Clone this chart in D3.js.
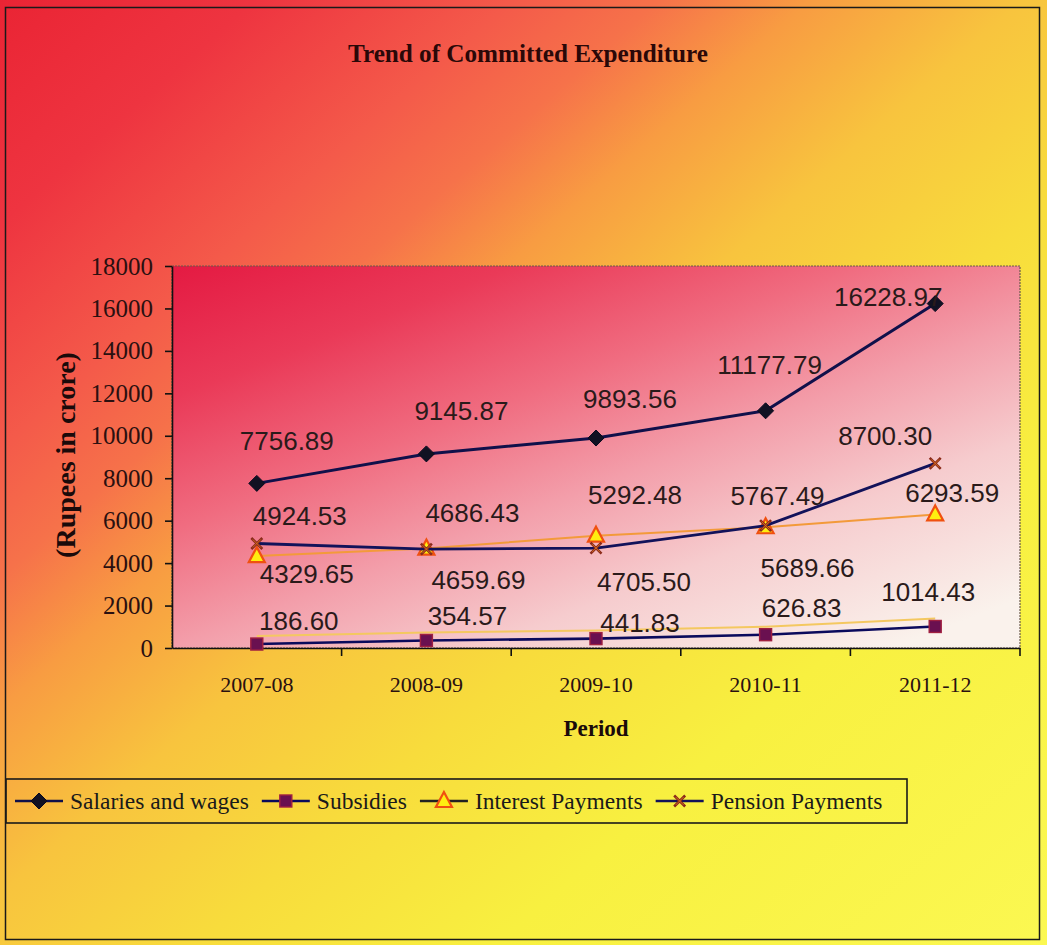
<!DOCTYPE html>
<html>
<head>
<meta charset="utf-8">
<script src="https://cdn.jsdelivr.net/npm/d3@7"></script>
<style>
  html, body { margin: 0; padding: 0; background: #ffffff; }
  svg { display: block; }
</style>
</head>
<body>
<div id="chart"></div>
<script>
// ---- data ----
const periods = ["2007-08", "2008-09", "2009-10", "2010-11", "2011-12"];
const salaries = [7756.89, 9145.87, 9893.56, 11177.79, 16228.97];
const subsidies = [186.60, 354.57, 441.83, 626.83, 1014.43];
const interest = [4329.65, 4686.43, 5292.48, 5689.66, 6293.59];
const pension = [4924.53, 4659.69, 4705.50, 5767.49, 8700.30];
const seriesNames = ["Salaries and wages", "Subsidies", "Interest Payments", "Pension Payments"];
const yTicks = [0, 2000, 4000, 6000, 8000, 10000, 12000, 14000, 16000, 18000];

// ---- layout ----
const W = 1047, H = 945;
const plot = { left: 172, right: 1020, top: 266, bottom: 648 };
const serif = "'Liberation Serif', 'Times New Roman', serif";
const sans = "'Liberation Sans', Arial, sans-serif";

// label nudges (dx, dy of text baseline from the marker), per series
const labelNudge = {
  sal: { dx: [30, 35, 34, 4, -47], dy: [-33, -34, -30, -37, 2] },
  sub: { dx: [42, 41, 44, 36, -7], dy: [-14, -15, -7, -18, -25] },
  int: { dx: [50, 46, 39, 42, 17], dy: [27, -27, -32, 50, -12] },
  pen: { dx: [43, 52, 48, 12, -50], dy: [-18, 40, 43, -21, -18] }
};

const series = [
  { key: "sub", name: seriesNames[1], values: subsidies, line: "#0a0a5c", width: 2.6, marker: "square" },
  { key: "int", name: seriesNames[2], values: interest, line: "#f39a3a", width: 2, marker: "triangle" },
  { key: "pen", name: seriesNames[3], values: pension, line: "#12125a", width: 2.8, marker: "cross" },
  { key: "sal", name: seriesNames[0], values: salaries, line: "#10104a", width: 3, marker: "diamond" }
];

const svg = d3.select("#chart").append("svg")
  .attr("width", W).attr("height", H)
  .attr("viewBox", `0 0 ${W} ${H}`);

const defs = svg.append("defs");

// page background: red at top-left fading through orange to yellow
const bg = defs.append("linearGradient").attr("id", "bgGrad")
  .attr("gradientUnits", "userSpaceOnUse")
  .attr("x1", 0).attr("y1", 0).attr("x2", 924).attr("y2", 1056);
[[0, "#ea2434"], [0.12, "#ee3440"], [0.24, "#f45a4a"], [0.31, "#f6724a"],
 [0.38, "#f89c42"], [0.48, "#f8c43e"], [0.6, "#f8dc3c"], [0.74, "#f8f040"], [1, "#fbf852"]]
  .forEach(([o, c]) => bg.append("stop").attr("offset", o).attr("stop-color", c));

// plot area: saturated pink-red at top-left fading to near white
const pg = defs.append("linearGradient").attr("id", "plotGrad")
  .attr("x1", 0).attr("y1", 0).attr("x2", 0.85).attr("y2", 1);
[[0, "#e41a42"], [0.2, "#ea3a58"], [0.4, "#f06c80"], [0.58, "#f39eaa"],
 [0.76, "#f6ccce"], [1, "#faf2ec"]]
  .forEach(([o, c]) => pg.append("stop").attr("offset", o).attr("stop-color", c));

svg.append("rect").attr("x", 0).attr("y", 0).attr("width", W).attr("height", H)
  .attr("fill", "url(#bgGrad)");

// outer frame
svg.append("rect").attr("x", 5.5).attr("y", 7.5).attr("width", 1034).attr("height", 932)
  .attr("fill", "none").attr("stroke", "#1a1a1a").attr("stroke-width", 1.5);

// title
svg.append("text")
  .attr("x", 528).attr("y", 62)
  .attr("text-anchor", "middle")
  .attr("font-family", serif)
  .attr("font-weight", "bold").attr("font-size", 26)
  .attr("textLength", 360).attr("lengthAdjust", "spacingAndGlyphs")
  .attr("fill", "#2a0808")
  .text("Trend of Committed Expenditure");

// scales
const x = d3.scaleBand().domain(periods).range([plot.left, plot.right]).padding(0);
const cx = p => x(p) + x.bandwidth() / 2;
const y = d3.scaleLinear().domain([0, 18000]).range([plot.bottom, plot.top]);

// plot area
svg.append("rect")
  .attr("x", plot.left).attr("y", plot.top)
  .attr("width", plot.right - plot.left).attr("height", plot.bottom - plot.top)
  .attr("fill", "url(#plotGrad)")
  .attr("stroke", "#6a5a4a").attr("stroke-width", 1.2)
  .attr("stroke-dasharray", "2,1");

// y axis
const yAxis = d3.axisLeft(y).tickValues(yTicks).tickSize(7).tickSizeOuter(0)
  .tickFormat(d3.format("d"));
const gy = svg.append("g").attr("transform", `translate(${plot.left},0)`).call(yAxis);
gy.select(".domain").attr("stroke", "#111").attr("stroke-width", 1.6);
gy.selectAll(".tick line").attr("stroke", "#111").attr("stroke-width", 1.6);
gy.selectAll(".tick text")
  .attr("x", -19)
  .attr("font-family", serif)
  .attr("font-size", 25).attr("fill", "#2a1010");

// x axis
const xAxis = d3.axisBottom(x).tickSize(0).tickSizeOuter(0);
const gx = svg.append("g").attr("transform", `translate(0,${plot.bottom})`).call(xAxis);
gx.select(".domain").attr("stroke", "#111").attr("stroke-width", 1.6);
gx.selectAll(".tick text")
  .attr("y", 44).attr("dy", 0)
  .attr("font-family", serif)
  .attr("font-size", 22).attr("fill", "#2a1010");
// category separators below the axis
gx.selectAll(".sep").data(periods).enter().append("line")
  .attr("x1", d => x(d) + x.bandwidth()).attr("x2", d => x(d) + x.bandwidth())
  .attr("y1", 0).attr("y2", 8)
  .attr("stroke", "#111").attr("stroke-width", 1.6);

// axis titles
svg.append("text")
  .attr("x", cx(periods[2])).attr("y", 736)
  .attr("text-anchor", "middle")
  .attr("font-family", serif)
  .attr("font-weight", "bold").attr("font-size", 23).attr("fill", "#1a0a0a")
  .text("Period");
svg.append("text")
  .attr("transform", "translate(75,455) rotate(-90)")
  .attr("text-anchor", "middle")
  .attr("font-family", serif)
  .attr("font-weight", "bold").attr("font-size", 28).attr("fill", "#1a0a0a")
  .text("(Rupees in crore)");

// markers
function drawMarker(g, type, px, py) {
  if (type === "diamond") {
    g.append("path")
      .attr("d", `M${px},${py - 8}L${px + 8},${py}L${px},${py + 8}L${px - 8},${py}Z`)
      .attr("fill", "#111122").attr("stroke", "#0a0a20").attr("stroke-width", 1);
  } else if (type === "square") {
    g.append("rect").attr("x", px - 6).attr("y", py - 6)
      .attr("width", 12).attr("height", 12)
      .attr("fill", "#6a1050").attr("stroke", "#a02040").attr("stroke-width", 1.4);
  } else if (type === "triangle") {
    g.append("path")
      .attr("d", `M${px},${py - 9}L${px + 8},${py + 6}L${px - 8},${py + 6}Z`)
      .attr("fill", "#ffee10").attr("stroke", "#f05010").attr("stroke-width", 2.2);
  } else if (type === "cross") {
    g.append("path")
      .attr("d", `M${px - 5.5},${py - 5.5}L${px + 5.5},${py + 5.5}M${px - 5.5},${py + 5.5}L${px + 5.5},${py - 5.5}`)
      .attr("stroke", "#8a2a1a").attr("stroke-width", 2.6).attr("fill", "none");
    g.append("path")
      .attr("d", `M${px - 4},${py - 4}L${px + 4},${py + 4}M${px - 4},${py + 4}L${px + 4},${py - 4}`)
      .attr("stroke", "#e07820").attr("stroke-width", 0.8).attr("fill", "none");
  }
}

const lineGen = d3.line().x((d, i) => cx(periods[i])).y(d => y(d));

series.forEach(s => {
  const g = svg.append("g").attr("class", "series-" + s.key);
  if (s.key === "sub") {
    g.append("path").datum(s.values).attr("d", lineGen)
      .attr("fill", "none").attr("stroke", "#f4c860").attr("stroke-width", 2)
      .attr("transform", "translate(0,-8)");
  }
  g.append("path").datum(s.values).attr("d", lineGen)
    .attr("fill", "none").attr("stroke", s.line).attr("stroke-width", s.width);
  s.values.forEach((v, i) => drawMarker(g, s.marker, cx(periods[i]), y(v)));
});

// data labels
series.forEach(s => {
  const nudge = labelNudge[s.key];
  svg.append("g").selectAll("text").data(s.values).enter().append("text")
    .attr("x", (d, i) => cx(periods[i]) + nudge.dx[i])
    .attr("y", (d, i) => y(d) + nudge.dy[i])
    .attr("text-anchor", "middle")
    .attr("font-family", sans)
    .attr("font-size", 26).attr("fill", "#2a1a1a")
    .text(d => d3.format(".2f")(d));
});

// legend
const legY = 801;
svg.append("rect").attr("x", 6).attr("y", 779).attr("width", 901).attr("height", 44)
  .attr("fill", "none").attr("stroke", "#1a1a1a").attr("stroke-width", 1.6);
const legendOrder = [series[3], series[0], series[1], series[2]];
let lx = 15;
legendOrder.forEach(s => {
  const g = svg.append("g");
  g.append("line").attr("x1", lx).attr("x2", lx + 48).attr("y1", legY).attr("y2", legY)
    .attr("stroke", s.key === "int" ? "#222222" : s.line).attr("stroke-width", 2.4);
  drawMarker(g, s.marker, lx + 24, legY);
  const t = g.append("text").attr("x", lx + 55).attr("y", legY + 8)
    .attr("font-family", serif)
    .attr("font-size", 23.5).attr("fill", "#1a1a1a")
    .text(s.name);
  lx += 55 + t.node().getComputedTextLength() + 13;
});
</script>
</body>
</html>
